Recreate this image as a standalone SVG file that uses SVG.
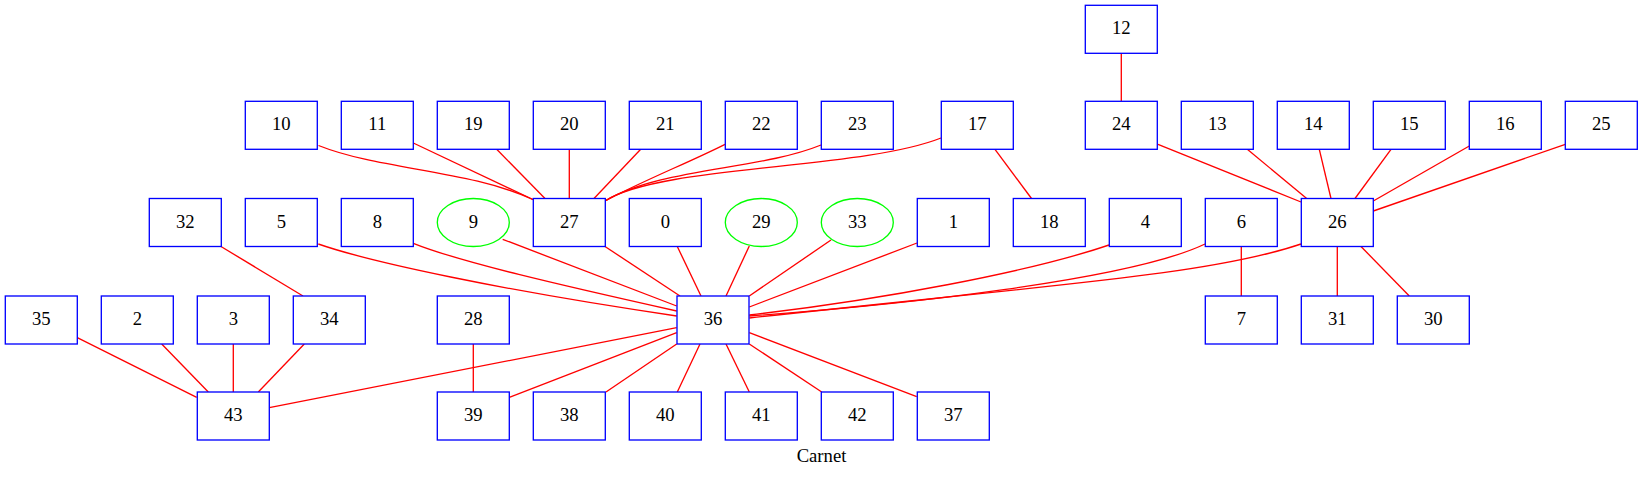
<svg xmlns="http://www.w3.org/2000/svg" width="1643" height="481" viewBox="0 0 1643 481">
<style>
.n rect{fill:#ffffff;stroke:#0000ff;stroke-width:1.33}
.n ellipse{fill:#ffffff;stroke:#00ff00;stroke-width:1.33}
.n text,.cap{font-family:"Liberation Serif","Times New Roman",serif;font-size:18.67px;fill:#000000;text-anchor:middle}
#edges path{fill:none;stroke:#ff0000;stroke-width:1.33}
</style>
<rect x="0" y="0" width="1643" height="481" fill="#ffffff"/>
<g id="edges">
<path d="M1121.3,53.3 L1121.3,101.3"/>
<path d="M318.5,145.5 C380,170 470,170 534,200"/>
<path d="M413.3,143 L534,200"/>
<path d="M496.7,149.3 L545,198.5"/>
<path d="M569.3,149.3 L569.3,198.5"/>
<path d="M640.7,149.3 L594,198.5"/>
<path d="M725,144.3 C690,162 640,182 605,201"/>
<path d="M821,145 C760,170 660,168 605,201"/>
<path d="M941,138 C860,170 660,165 605,201"/>
<path d="M995,149.3 L1031.5,198.5"/>
<path d="M1158,144.3 L1301,202"/>
<path d="M1247.3,149.3 L1306.7,198.5"/>
<path d="M1319.3,149.3 L1331,198.5"/>
<path d="M1391,149.3 L1355,198.5"/>
<path d="M1469.3,146 L1373.3,201"/>
<path d="M1565.3,144.3 L1373.3,211"/>
<path d="M221,246.5 L303,296"/>
<path d="M318.3,244 C370,262 500,290 676.7,316"/>
<path d="M413.3,243.3 C460,262 560,285 676.7,311"/>
<path d="M502.7,239.3 L676.7,306"/>
<path d="M605,246.5 L680,296"/>
<path d="M677.3,246.5 L701,296"/>
<path d="M749.3,246 L726,296"/>
<path d="M831,240 L749.3,296"/>
<path d="M917,243 L749.3,307"/>
<path d="M1109,245 C1030,272 880,300 749.3,315"/>
<path d="M1205,244 C1130,280 900,305 749.3,316"/>
<path d="M1301,244 C1210,275 1050,285 749.3,318"/>
<path d="M1241.3,246.5 L1241.3,296"/>
<path d="M1337.3,246.5 L1337.3,296"/>
<path d="M1361,246.5 L1409.3,296"/>
<path d="M77.3,337.7 L196.7,397.3"/>
<path d="M161.7,344 L208.3,392"/>
<path d="M233.3,344 L233.3,392"/>
<path d="M304.3,344 L258.3,392"/>
<path d="M676.7,327.7 L269.3,407.7"/>
<path d="M473.3,344 L473.3,392"/>
<path d="M676.7,332.7 L509.3,397.3"/>
<path d="M676.7,344 L606,392"/>
<path d="M700,344 L677.3,392"/>
<path d="M726,344 L749.3,392"/>
<path d="M749.3,344 L821.7,392"/>
<path d="M749.3,332.7 L916.7,396.7"/>
</g>
<g id="node12" class="n"><rect x="1085.3" y="5.3" width="72" height="48"/><text x="1121.3" y="34.3">12</text></g>
<g id="node10" class="n"><rect x="245.3" y="101.3" width="72" height="48"/><text x="281.3" y="130.3">10</text></g>
<g id="node11" class="n"><rect x="341.3" y="101.3" width="72" height="48"/><text x="377.3" y="130.3">11</text></g>
<g id="node19" class="n"><rect x="437.3" y="101.3" width="72" height="48"/><text x="473.3" y="130.3">19</text></g>
<g id="node20" class="n"><rect x="533.3" y="101.3" width="72" height="48"/><text x="569.3" y="130.3">20</text></g>
<g id="node21" class="n"><rect x="629.3" y="101.3" width="72" height="48"/><text x="665.3" y="130.3">21</text></g>
<g id="node22" class="n"><rect x="725.3" y="101.3" width="72" height="48"/><text x="761.3" y="130.3">22</text></g>
<g id="node23" class="n"><rect x="821.3" y="101.3" width="72" height="48"/><text x="857.3" y="130.3">23</text></g>
<g id="node17" class="n"><rect x="941.3" y="101.3" width="72" height="48"/><text x="977.3" y="130.3">17</text></g>
<g id="node24" class="n"><rect x="1085.3" y="101.3" width="72" height="48"/><text x="1121.3" y="130.3">24</text></g>
<g id="node13" class="n"><rect x="1181.3" y="101.3" width="72" height="48"/><text x="1217.3" y="130.3">13</text></g>
<g id="node14" class="n"><rect x="1277.3" y="101.3" width="72" height="48"/><text x="1313.3" y="130.3">14</text></g>
<g id="node15" class="n"><rect x="1373.3" y="101.3" width="72" height="48"/><text x="1409.3" y="130.3">15</text></g>
<g id="node16" class="n"><rect x="1469.3" y="101.3" width="72" height="48"/><text x="1505.3" y="130.3">16</text></g>
<g id="node25" class="n"><rect x="1565.3" y="101.3" width="72" height="48"/><text x="1601.3" y="130.3">25</text></g>
<g id="node32" class="n"><rect x="149.3" y="198.5" width="72" height="48"/><text x="185.3" y="227.5">32</text></g>
<g id="node5" class="n"><rect x="245.3" y="198.5" width="72" height="48"/><text x="281.3" y="227.5">5</text></g>
<g id="node8" class="n"><rect x="341.3" y="198.5" width="72" height="48"/><text x="377.3" y="227.5">8</text></g>
<g id="node9" class="n"><ellipse cx="473.3" cy="222.5" rx="36" ry="24"/><text x="473.3" y="227.5">9</text></g>
<g id="node27" class="n"><rect x="533.3" y="198.5" width="72" height="48"/><text x="569.3" y="227.5">27</text></g>
<g id="node0" class="n"><rect x="629.3" y="198.5" width="72" height="48"/><text x="665.3" y="227.5">0</text></g>
<g id="node29" class="n"><ellipse cx="761.3" cy="222.5" rx="36" ry="24"/><text x="761.3" y="227.5">29</text></g>
<g id="node33" class="n"><ellipse cx="857.3" cy="222.5" rx="36" ry="24"/><text x="857.3" y="227.5">33</text></g>
<g id="node1" class="n"><rect x="917.3" y="198.5" width="72" height="48"/><text x="953.3" y="227.5">1</text></g>
<g id="node18" class="n"><rect x="1013.3" y="198.5" width="72" height="48"/><text x="1049.3" y="227.5">18</text></g>
<g id="node4" class="n"><rect x="1109.3" y="198.5" width="72" height="48"/><text x="1145.3" y="227.5">4</text></g>
<g id="node6" class="n"><rect x="1205.3" y="198.5" width="72" height="48"/><text x="1241.3" y="227.5">6</text></g>
<g id="node26" class="n"><rect x="1301.3" y="198.5" width="72" height="48"/><text x="1337.3" y="227.5">26</text></g>
<g id="node35" class="n"><rect x="5.3" y="296" width="72" height="48"/><text x="41.3" y="325">35</text></g>
<g id="node2" class="n"><rect x="101.3" y="296" width="72" height="48"/><text x="137.3" y="325">2</text></g>
<g id="node3" class="n"><rect x="197.3" y="296" width="72" height="48"/><text x="233.3" y="325">3</text></g>
<g id="node34" class="n"><rect x="293.3" y="296" width="72" height="48"/><text x="329.3" y="325">34</text></g>
<g id="node28" class="n"><rect x="437.3" y="296" width="72" height="48"/><text x="473.3" y="325">28</text></g>
<g id="node36" class="n"><rect x="677" y="296" width="72" height="48"/><text x="713" y="325">36</text></g>
<g id="node7" class="n"><rect x="1205.3" y="296" width="72" height="48"/><text x="1241.3" y="325">7</text></g>
<g id="node31" class="n"><rect x="1301.3" y="296" width="72" height="48"/><text x="1337.3" y="325">31</text></g>
<g id="node30" class="n"><rect x="1397.3" y="296" width="72" height="48"/><text x="1433.3" y="325">30</text></g>
<g id="node43" class="n"><rect x="197.3" y="392" width="72" height="48"/><text x="233.3" y="421">43</text></g>
<g id="node39" class="n"><rect x="437.3" y="392" width="72" height="48"/><text x="473.3" y="421">39</text></g>
<g id="node38" class="n"><rect x="533.3" y="392" width="72" height="48"/><text x="569.3" y="421">38</text></g>
<g id="node40" class="n"><rect x="629.3" y="392" width="72" height="48"/><text x="665.3" y="421">40</text></g>
<g id="node41" class="n"><rect x="725.3" y="392" width="72" height="48"/><text x="761.3" y="421">41</text></g>
<g id="node42" class="n"><rect x="821.3" y="392" width="72" height="48"/><text x="857.3" y="421">42</text></g>
<g id="node37" class="n"><rect x="917.3" y="392" width="72" height="48"/><text x="953.3" y="421">37</text></g>
<text class="cap" x="821.5" y="462">Carnet</text>
</svg>
